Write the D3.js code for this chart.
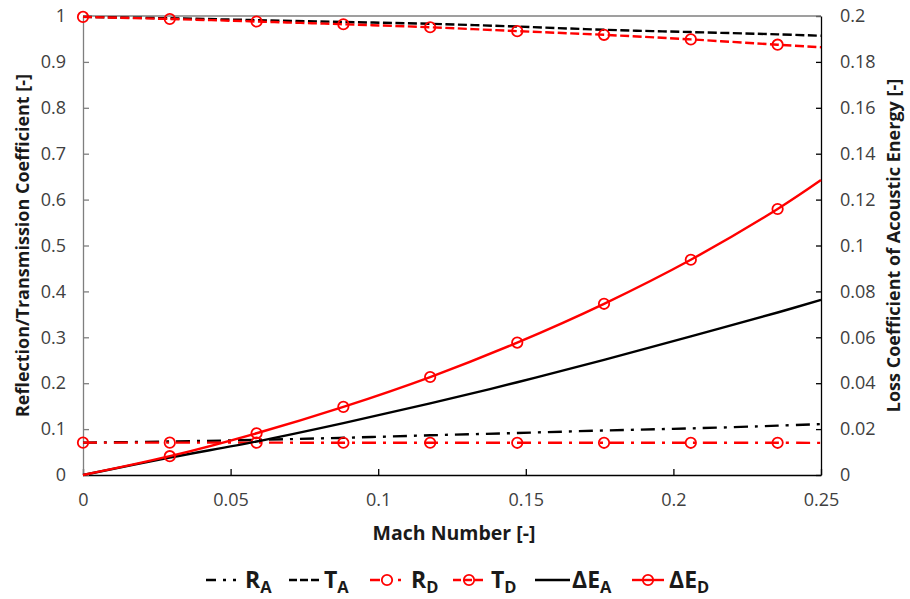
<!DOCTYPE html>
<html>
<head>
<meta charset="utf-8">
<script src="https://cdn.jsdelivr.net/npm/d3@7"></script>
<style>
  html, body { margin: 0; padding: 0; background: #fff; }
  svg { display: block; font-family: "Open Sans", sans-serif; }
</style>
</head>
<body>
<svg id="chart" width="910" height="599"></svg>
<script>
// Mach number samples (markers are drawn on all but the last sample)
const mach = [0, 0.0294, 0.0588, 0.0882, 0.1176, 0.1471, 0.1765, 0.2059, 0.2353, 0.25];

// Reflection / transmission coefficients (left axis)
const rA = [0.0705, 0.073, 0.0765, 0.081, 0.0865, 0.0915, 0.097, 0.1015, 0.1075, 0.111];
const tA = [0.998, 0.995, 0.991, 0.987, 0.983, 0.977, 0.970, 0.965, 0.960, 0.957];
const rD = [0.0705, 0.0705, 0.0705, 0.0703, 0.0703, 0.0702, 0.0702, 0.0702, 0.0702, 0.0700];
const tD = [0.998, 0.9935, 0.988, 0.982, 0.9755, 0.967, 0.959, 0.949, 0.9375, 0.932];

// Loss coefficient of acoustic energy (right axis)
const dEA = [0, 0.0076, 0.0146, 0.0226, 0.0312, 0.0404, 0.0502, 0.0604, 0.0708, 0.0763];
const dED = [0, 0.0082, 0.0182, 0.0297, 0.0427, 0.0577, 0.0746, 0.0938, 0.1159, 0.1285];

// Tick values
const xTicks = [0, 0.05, 0.1, 0.15, 0.2, 0.25];
const yLeftTicks = [0, 0.1, 0.2, 0.3, 0.4, 0.5, 0.6, 0.7, 0.8, 0.9, 1];
const yRightTicks = [0, 0.02, 0.04, 0.06, 0.08, 0.1, 0.12, 0.14, 0.16, 0.18, 0.2];

const svg = d3.select("#chart");
const plot = { left: 83, right: 821, top: 16, bottom: 475 };

const x = d3.scaleLinear().domain([0, 0.25]).range([plot.left, plot.right]);
const yL = d3.scaleLinear().domain([0, 1]).range([plot.bottom, plot.top]);
const yR = d3.scaleLinear().domain([0, 0.2]).range([plot.bottom, plot.top]);

const RED = "#ff0000";
const BLACK = "#000000";
const DASH = "9,3.5";
const DASHDOT = "14,7,3,7";

// markerFrom: index of the first sample that gets a marker
const series = [
  { key: "RA", values: rA, y: yL, color: BLACK, dash: DASHDOT, markers: false, main: "R", sub: "A" },
  { key: "TA", values: tA, y: yL, color: BLACK, dash: DASH, markers: false, main: "T", sub: "A" },
  { key: "RD", values: rD, y: yL, color: RED, dash: DASHDOT, markers: true, markerFrom: 0, main: "R", sub: "D" },
  { key: "TD", values: tD, y: yL, color: RED, dash: DASH, markers: true, markerFrom: 0, main: "T", sub: "D" },
  { key: "dEA", values: dEA, y: yR, color: BLACK, dash: null, markers: false, main: "\u0394E", sub: "A" },
  { key: "dED", values: dED, y: yR, color: RED, dash: null, markers: true, markerFrom: 1, main: "\u0394E", sub: "D" }
];

// Axes
const tickColor = "#404040";
const fmt = d => String(+d.toFixed(3));

const gx = svg.append("g").attr("transform", `translate(0,${plot.bottom})`)
  .call(d3.axisBottom(x).tickValues(xTicks).tickFormat(fmt).tickSizeInner(-6).tickSizeOuter(0).tickPadding(18));
gx.select(".domain").attr("stroke", "#000").attr("stroke-width", 1.3);
gx.selectAll(".tick line").attr("stroke", "#000").attr("stroke-width", 1.3);

const gyL = svg.append("g").attr("transform", `translate(${plot.left},0)`)
  .call(d3.axisLeft(yL).tickValues(yLeftTicks).tickFormat(fmt).tickSizeInner(-6).tickSizeOuter(0).tickPadding(17));
gyL.select(".domain").attr("stroke", "#7f7f7f").attr("stroke-width", 1.3);
gyL.selectAll(".tick line").attr("stroke", "#7f7f7f").attr("stroke-width", 1.3);

const gyR = svg.append("g").attr("transform", `translate(${plot.right},0)`)
  .call(d3.axisRight(yR).tickValues(yRightTicks).tickFormat(fmt).tickSizeInner(-5).tickSizeOuter(0).tickPadding(19));
gyR.select(".domain").attr("stroke", "#000").attr("stroke-width", 1.3);
gyR.selectAll(".tick line").attr("stroke", "#000").attr("stroke-width", 1.3);

// plot area top border
svg.append("line")
  .attr("x1", plot.left).attr("x2", plot.right)
  .attr("y1", plot.top).attr("y2", plot.top)
  .attr("stroke", "#7f7f7f").attr("stroke-width", 1.3);

[gx, gyL, gyR].forEach(g => g.selectAll(".tick text")
  .attr("font-family", "'Open Sans', sans-serif")
  .attr("font-size", 18)
  .attr("fill", tickColor));

// Axis titles
svg.append("text")
  .attr("x", (plot.left + plot.right) / 2 + 2).attr("y", 540)
  .attr("text-anchor", "middle")
  .attr("font-size", 19.5).attr("font-weight", "bold").attr("fill", "#1a1a1a")
  .text("Mach Number [-]");

svg.append("text")
  .attr("transform", `translate(29,${(plot.top + plot.bottom) / 2 + 0}) rotate(-90)`)
  .attr("text-anchor", "middle")
  .attr("font-size", 18).attr("font-weight", "bold").attr("fill", "#1a1a1a")
  .text("Reflection/Transmission Coefficient [-]");

svg.append("text")
  .attr("transform", `translate(900,${(plot.top + plot.bottom) / 2 + 0}) rotate(-90)`)
  .attr("text-anchor", "middle")
  .attr("font-size", 18).attr("font-weight", "bold").attr("fill", "#1a1a1a")
  .text("Loss Coefficient of Acoustic Energy [-]");

// Series lines and markers
const plotG = svg.append("g");
series.forEach(s => {
  const line = d3.line()
    .x((d, i) => x(mach[i]))
    .y(d => s.y(d))
    .curve(d3.curveCatmullRom.alpha(0.5));
  plotG.append("path")
    .datum(s.values)
    .attr("fill", "none")
    .attr("stroke", s.color)
    .attr("stroke-width", 2.4)
    .attr("stroke-dasharray", s.dash)
    .attr("d", line);
  if (s.markers) {
    const pts = s.values.map((v, i) => ({ m: mach[i], v, i }))
      .filter(p => p.i >= s.markerFrom && p.i < mach.length - 1);
    plotG.selectAll(null)
      .data(pts)
      .join("circle")
      .attr("cx", p => x(p.m))
      .attr("cy", p => s.y(p.v))
      .attr("r", 5.2)
      .attr("fill", "none")
      .attr("stroke", s.color)
      .attr("stroke-width", 1.8);
  }
});

// Legend
const legendY = 580;
const legendItems = [
  { s: series[0], x0: 206, x1: 243, tx: 245, markerX: null },
  { s: series[1], x0: 289, x1: 319, tx: 324, markerX: null },
  { s: series[2], x0: 370, x1: 404, tx: 411, markerX: 387 },
  { s: series[3], x0: 453, x1: 484, tx: 491, markerX: 469 },
  { s: series[4], x0: 535, x1: 570, tx: 572, markerX: null },
  { s: series[5], x0: 632, x1: 664, tx: 669, markerX: 648 }
];
const lg = svg.append("g");
legendItems.forEach(it => {
  const s = it.s;
  let dash = s.dash;
  if (s.key === "RA") dash = "10,7,3,7,3,7";
  if (s.key === "RD") dash = "10,18,3,7";
  if (s.key === "TA" || s.key === "TD") dash = "8,3";
  lg.append("line")
    .attr("x1", it.x0).attr("x2", it.x1)
    .attr("y1", legendY).attr("y2", legendY)
    .attr("stroke", s.color).attr("stroke-width", 2.4)
    .attr("stroke-dasharray", dash);
  if (it.markerX !== null) {
    lg.append("circle")
      .attr("cx", it.markerX).attr("cy", legendY).attr("r", 5.2)
      .attr("fill", "none").attr("stroke", s.color).attr("stroke-width", 1.8);
  }
  const t = lg.append("text")
    .attr("x", it.tx).attr("y", 588)
    .attr("font-size", 23).attr("font-weight", "bold").attr("fill", "#1a1a1a");
  t.append("tspan").text(s.main);
  t.append("tspan").attr("dy", 5).attr("font-size", 16.5).text(s.sub);
});
</script>
</body>
</html>
